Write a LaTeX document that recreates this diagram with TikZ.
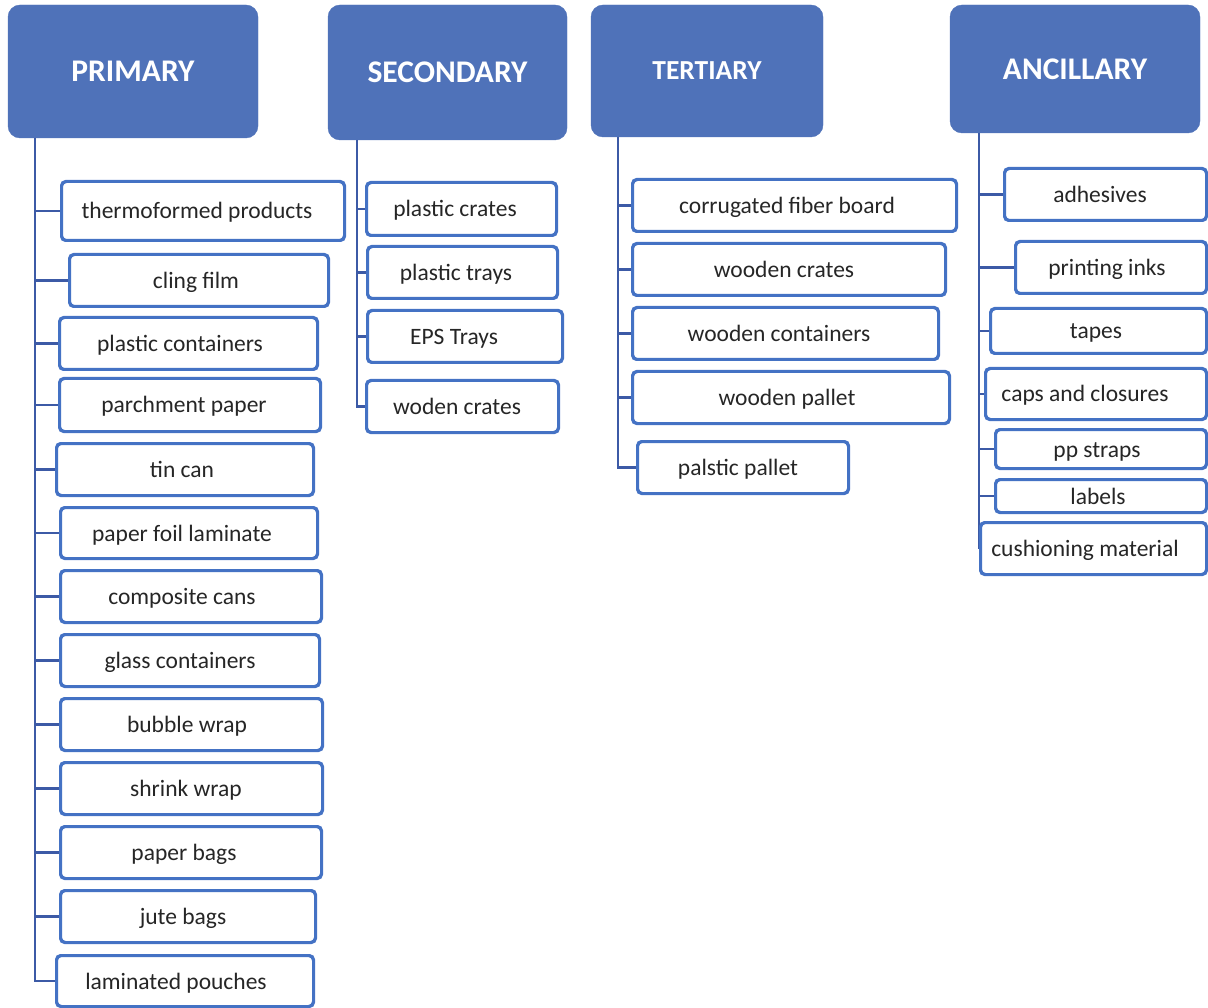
\documentclass[tikz,border=0pt]{standalone}
\usepackage{fontspec}
\setmainfont{Carlito}
\usetikzlibrary{fit}

\definecolor{hdrfill}{RGB}{79,114,185}
\definecolor{boxline}{RGB}{68,114,196}
\definecolor{treeline}{RGB}{60,90,166}
\definecolor{txt}{RGB}{38,38,38}

\tikzset{
  header/.style={fill=hdrfill, draw=hdrfill, rounded corners=12pt, inner sep=0pt},
  itembox/.style={draw=boxline, line width=2pt, rounded corners=4.5pt, fill=white, inner sep=0pt},
  itemtext/.style={text=txt, font=\fontsize{23.5}{28}\selectfont, inner sep=0pt,
    text height=16pt, text depth=0pt},
  trunk/.style={draw=treeline, line width=2.8pt},
}

% item box: name, x1, y1, x2, y2, text centre x, label
\newcommand\itembox[7]{%
  \coordinate (#1-a) at (#2,#3);
  \coordinate (#1-b) at (#4,#5);
  \node[itembox, fit=(#1-a)(#1-b)] (#1) {};
  \node[itemtext] (#1-t) at (#6,{(#3+#5)/2}) {#7};
}
% header box: name, x1, y1, x2, y2, label, font size
\newcommand\headbox[7]{%
  \coordinate (#1-a) at (#2,#3);
  \coordinate (#1-b) at (#4,#5);
  \node[header, fit=(#1-a)(#1-b)] (#1) {};
  \node[text=white, font=\bfseries\fontsize{#7}{#7}\selectfont, inner sep=0pt] (#1-t) at (#1.center) {#6};
}

\begin{document}
\begin{tikzpicture}[x=1pt,y=-1pt]
\useasboundingbox (0,0) rectangle (1208,1008);

% ---- headers
\headbox{hp}{8}{5}{258}{138}{PRIMARY}{31.5}
\headbox{hs}{328}{5}{567}{140}{SECONDARY}{31.5}
\headbox{ht}{591}{5}{823}{137}{TERTIARY}{27.5}
\headbox{ha}{950}{5}{1200}{133}{ANCILLARY}{31.5}

% ---- primary
\itembox{p1}{62}{182}{344}{240}{197}{thermoformed products}
\itembox{p2}{70}{255}{328}{306}{196}{cling film}
\itembox{p3}{60}{318}{317}{369}{180}{plastic containers}
\itembox{p4}{60}{379}{320}{431}{184}{parchment paper}
\itembox{p5}{57}{444}{313}{495}{182}{tin can}
\itembox{p6}{61}{508}{317}{558}{182}{paper foil laminate}
\itembox{p7}{61}{571}{321}{622}{182}{composite cans}
\itembox{p8}{61}{635}{319}{686}{180}{glass containers}
\itembox{p9}{61}{699}{322}{750}{187}{bubble wrap}
\itembox{p10}{61}{763}{322}{814}{186}{shrink wrap}
\itembox{p11}{61}{827}{321}{878}{184}{paper bags}
\itembox{p12}{61}{891}{315}{942}{183}{jute bags}
\itembox{p13}{57}{956}{313}{1006}{176}{laminated pouches}

% ---- secondary
\itembox{s1}{367}{183}{556}{235}{455}{plastic crates}
\itembox{s2}{368}{247}{557}{298}{456}{plastic trays}
\itembox{s3}{368}{311}{562}{362}{454}{EPS Trays}
\itembox{s4}{367}{381}{558}{432}{457}{woden crates}

% ---- tertiary
\itembox{t1}{633}{180}{956}{231}{787}{corrugated fiber board}
\itembox{t2}{633}{244}{945}{295}{784}{wooden crates}
\itembox{t3}{633}{308}{938}{359}{779}{wooden containers}
\itembox{t4}{633}{372}{949}{423}{787}{wooden pallet}
\itembox{t5}{638}{442}{848}{493}{738}{palstic pallet}

% ---- ancillary
\itembox{a1}{1005}{169}{1206}{220}{1100}{adhesives}
\itembox{a2}{1016}{242}{1206}{293}{1107}{printing inks}
\itembox{a3}{991}{309}{1206}{353}{1096}{tapes}
\itembox{a4}{986}{369}{1206}{419}{1085}{caps and closures}
\itembox{a5}{996}{430}{1206}{468}{1097}{pp straps}
\itembox{a6}{996}{480}{1206}{512}{1098}{labels}
\itembox{a7}{981}{523}{1206}{574}{1085}{cushioning material}

% ---- tree lines
\coordinate (ptop) at (35,138);
\coordinate (stop) at (357,140);
\coordinate (ttop) at (618,137);
\coordinate (atop) at (979,133);

\draw[trunk] (ptop) -- (ptop |- p13.west) -- (p13.west);
\foreach \i in {1,...,12} \draw[trunk] (ptop |- p\i.west) -- (p\i.west);

\draw[trunk] (stop) -- (stop |- s4.west) -- (s4.west);
\foreach \i in {1,2,3} \draw[trunk] (stop |- s\i.west) -- (s\i.west);

\draw[trunk] (ttop) -- (ttop |- t5.west) -- (t5.west);
\foreach \i in {1,...,4} \draw[trunk] (ttop |- t\i.west) -- (t\i.west);

\draw[trunk] (atop) -- (atop |- a7.west);
\foreach \i in {1,...,6} \draw[trunk] (atop |- a\i.west) -- (a\i.west);

% box outlines on top of the branch ends
\foreach \n in {p1,p2,p3,p4,p5,p6,p7,p8,p9,p10,p11,p12,p13,s1,s2,s3,s4,t1,t2,t3,t4,t5,a1,a2,a3,a4,a5,a6,a7}
  \draw[draw=boxline, line width=2pt, rounded corners=4.5pt] (\n.south west) rectangle (\n.north east);
\end{tikzpicture}
\end{document}
